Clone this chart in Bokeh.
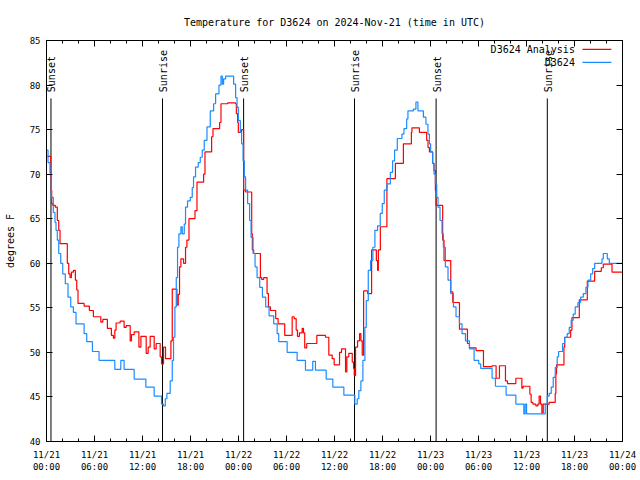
from math import pi
from bokeh.plotting import figure
from bokeh.models import (Range1d, FixedTicker, LinearAxis, Label,
                          CustomJSTickFormatter)
from bokeh.core.properties import value
from bokeh.embed import file_html
from bokeh.resources import INLINE

# ---------------- data (hours since 11/21 00:00 UTC, degrees F) ----------------
BLUE = [(0.0,72.7),(0.19,71.3),(0.44,70.1),(0.60,67.4),(0.85,65.7),(1.06,64.6),(1.19,63.7),(1.35,62.6),
        (1.53,61.1),(1.78,60.0),(2.03,58.8),(2.35,57.7),(2.69,56.2),(3.03,55.1),(3.36,54.5),(3.69,53.2),
        (4.70,52.1),(5.03,51.2),(5.74,50.1),(6.57,49.1),(8.54,48.1),(9.29,49.1),(9.70,48.1),(10.96,47.0),
        (12.42,46.1),(13.46,45.1),(14.38,44.2),(14.60,44.0),(14.85,44.8),(15.05,45.4),(15.46,46.8),(15.72,49.1),
        (15.88,51.7),(16.05,55.1),(16.22,58.4),(16.38,61.8),(16.55,63.3),(16.80,64.1),(16.97,63.3),(17.22,64.4),
        (17.38,66.3),(17.63,67.0),(17.97,67.4),(18.22,68.5),(18.38,69.7),(18.63,70.8),(18.97,71.3),(19.22,71.9),
        (19.47,72.7),(19.72,73.8),(20.06,75.3),(20.47,77.1),(20.89,77.9),(21.14,79.0),(21.56,80.0),(21.81,81.0),
        (21.98,80.1),(22.14,80.7),(22.39,81.0),(23.39,80.1),(23.64,78.6),(23.82,77.5),(23.98,76.0),(24.23,74.7),
        (24.39,73.4),(24.57,71.5),(24.73,69.7),(24.89,68.2),(25.14,66.7),(25.39,64.8),(25.57,62.9),(25.82,61.1),
        (26.07,59.6),(26.32,58.4),(26.65,57.3),(26.99,56.2),(27.40,55.1),(27.82,54.1),(28.40,53.2),(28.83,52.1),
        (29.03,51.2),(30.08,50.0),(31.33,49.1),(32.37,48.0),(33.28,49.0),(33.62,48.0),(34.96,47.0),(35.79,46.1),
        (37.17,45.2),(38.54,44.2),(38.84,44.8),(39.04,45.7),(39.30,46.8),(39.55,49.1),(39.80,52.8),(39.97,55.8),
        (40.22,59.2),(40.51,60.3),(40.80,61.8),(41.05,63.7),(41.39,64.2),(41.72,65.6),(41.97,66.7),(42.22,68.2),
        (42.55,68.9),(42.98,70.2),(43.26,71.5),(43.51,72.7),(43.85,74.0),(44.43,74.5),(44.68,75.1),(45.02,76.2),
        (45.18,77.1),(45.86,77.3),(46.18,78.1),(46.43,77.1),(47.11,76.4),(47.43,75.6),(47.68,74.5),(47.86,73.4),
        (48.02,72.5),(48.27,71.2),(48.44,70.0),(48.61,68.9),(48.78,67.4),(48.94,66.3),(49.19,64.8),(49.44,63.3),
        (49.61,61.8),(49.86,59.6),(50.19,58.1),(50.53,56.6),(50.87,55.1),(51.19,54.0),(51.62,53.2),(51.94,52.1),
        (52.37,51.3),(52.87,50.4),(53.45,49.1),(54.03,48.7),(54.28,48.2),(55.70,47.1),(56.12,46.2),(57.45,45.2),
        (58.67,44.2),(59.67,43.1),(59.83,44.2),(60.01,43.1),(62.34,44.2),(62.59,45.1),(62.84,45.4),(63.09,46.1),
        (63.34,47.2),(63.59,48.3),(63.84,49.5),(64.01,50.1),(64.51,51.0),(64.77,51.7),(65.09,52.1),(65.34,52.8),
        (65.59,53.6),(65.84,54.3),(66.09,55.1),(66.43,55.6),(66.77,56.2),(67.10,56.6),(67.43,57.3),(67.68,58.1),
        (68.02,58.8),(68.27,59.4),(68.52,60.0),(69.44,60.5),(69.60,61.1),(70.10,60.5),(70.35,60.0),(72.0,60.0)]

RED = [(0.10,72.0),(0.53,69.7),(0.58,68.2),(0.65,66.7),(0.78,66.5),(1.10,66.3),(1.35,64.8),(1.53,63.7),
       (1.69,62.2),(2.60,60.0),(2.78,58.8),(2.94,58.4),(3.11,59.0),(3.36,59.2),(3.61,58.1),(3.78,57.0),
       (3.94,55.5),(4.70,55.2),(5.36,54.7),(5.86,54.0),(6.79,53.4),(7.04,53.7),(7.61,52.7),(8.11,51.9),
       (8.36,51.6),(8.54,52.5),(8.70,53.3),(9.20,53.5),(9.70,52.8),(9.96,53.0),(10.46,51.3),(10.62,52.0),
       (10.96,52.3),(11.55,50.6),(11.80,51.8),(12.46,49.9),(12.71,50.6),(12.96,51.8),(13.46,50.4),(13.71,51.0),
       (14.21,49.5),(14.38,48.7),(14.63,50.6),(14.88,49.3),(15.55,51.3),(15.72,57.1),(16.30,55.3),(16.47,56.5),
       (16.63,59.6),(16.80,60.5),(17.13,60.0),(17.38,61.8),(17.55,62.6),(17.81,65.0),(18.56,65.9),(18.81,69.1),
       (19.64,70.0),(19.81,72.5),(20.64,74.2),(20.81,75.1),(21.64,75.8),(21.81,77.9),(22.64,78.0),(23.64,77.9),
       (23.73,76.8),(23.89,75.8),(23.98,74.7),(24.39,75.0),(24.64,68.2),(24.89,68.0),(25.65,63.3),(25.73,61.5),
       (25.90,61.1),(26.74,58.4),(26.90,58.2),(27.15,58.4),(27.57,56.6),(27.74,55.1),(27.99,54.7),(28.65,53.8),
       (28.95,53.2),(29.78,51.9),(30.71,54.0),(30.96,53.8),(31.21,52.5),(31.37,51.8),(31.62,52.2),(31.96,52.7),
       (32.12,52.2),(32.28,50.5),(32.53,51.0),(33.79,51.9),(34.88,51.7),(35.29,49.7),(35.71,49.3),(35.96,48.6),
       (36.63,50.0),(36.88,50.4),(37.38,47.8),(37.54,49.5),(37.79,49.9),(38.22,48.9),(38.38,48.2),(38.47,47.4),
       (38.63,50.6),(38.88,51.3),(39.13,52.1),(39.30,51.3),(39.47,49.7),(39.64,56.9),(40.14,56.6),(40.64,61.5),
       (41.23,60.3),(41.39,59.2),(41.48,61.5),(41.73,64.1),(42.55,69.5),(43.61,71.2),(44.61,73.4),(45.61,74.7),
       (45.68,75.2),(46.61,74.7),(47.52,73.8),(47.69,73.0),(47.86,72.5),(48.27,71.2),(48.44,70.4),(48.61,68.2),
       (48.69,66.5),(49.52,62.6),(49.69,60.3),(50.53,56.8),(50.78,55.6),(51.62,52.6),(52.62,51.0),(52.87,50.5),
       (53.70,50.2),(54.62,48.4),(55.70,48.5),(56.20,47.1),(56.62,48.5),(57.37,46.8),(57.62,46.5),(58.67,47.1),
       (59.42,46.0),(59.58,46.2),(60.42,45.3),(60.58,44.4),(60.80,44.2),(61.17,44.0),(61.42,44.2),(61.58,45.1),
       (61.75,44.2),(61.92,43.2),(62.09,44.2),(62.84,44.4),(63.59,45.4),(63.67,47.6),(63.75,48.6),(64.68,50.6),
       (64.77,51.7),(65.52,52.5),(65.68,53.9),(66.60,55.9),(67.60,58.0),(68.52,59.1),(69.35,59.5),(69.60,59.9),
       (70.69,59.0),(72.0,59.0)]

EVENT_HOURS = [0.56, 14.5, 24.64, 38.5, 48.7, 62.6]
EVENT_NAMES = ["Sunset", "Sunrise", "Sunset", "Sunrise", "Sunset", "Sunrise"]

X_TICKS = [0, 6, 12, 18, 24, 30, 36, 42, 48, 54, 60, 66, 72]
X_TICK_LABELS = ["11/21\n00:00", "11/21\n06:00", "11/21\n12:00", "11/21\n18:00",
                 "11/22\n00:00", "11/22\n06:00", "11/22\n12:00", "11/22\n18:00",
                 "11/23\n00:00", "11/23\n06:00", "11/23\n12:00", "11/23\n18:00",
                 "11/24\n00:00"]
X_MINOR = list(range(0, 73, 2))
Y_TICKS = [40, 45, 50, 55, 60, 65, 70, 75, 80, 85]

SERIES_NAMES = ["D3624 Analysis", "D3624"]
TITLE = "Temperature for D3624 on 2024-Nov-21 (time in UTC)"
Y_LABEL = "degrees F"

# ---------------- styling ----------------
FONT = "DejaVu Sans Mono"
RED_C = "#ff0000"
BLUE_C = "#1a8cff"
LINE_TOP = 78.5     # top of the sunrise/sunset markers
LABEL_Y = 79.2      # where the rotated marker labels start

blue_h, blue_t = zip(*BLUE)
red_h, red_t = zip(*RED)

p = figure(width=640, height=480, output_backend="svg", toolbar_location=None,
           x_range=Range1d(0, 72), y_range=Range1d(40, 85),
           min_border_left=46, min_border_right=18, min_border_top=40,
           min_border_bottom=39, x_axis_location=None, y_axis_location=None)
p.background_fill_color = "white"
p.border_fill_color = "white"
p.outline_line_color = "black"
p.xgrid.visible = False
p.ygrid.visible = False

p.title.text = TITLE
p.title.align = "center"
p.title.text_font = FONT
p.title.text_font_size = "10px"
p.title.text_font_style = "normal"
p.title.text_color = "black"
p.title.standoff = 25

xt = FixedTicker(ticks=X_TICKS, minor_ticks=X_MINOR)
yt = FixedTicker(ticks=Y_TICKS, minor_ticks=[])
blank = CustomJSTickFormatter(code="return ''")

def style(ax):
    ax.axis_line_color = "black"
    ax.major_tick_line_color = "black"
    ax.minor_tick_line_color = "black"
    ax.major_tick_in = 6
    ax.major_tick_out = 0
    ax.minor_tick_in = 3
    ax.minor_tick_out = 0
    ax.major_label_text_font = FONT
    ax.major_label_text_font_size = "9px"
    ax.major_label_text_color = "black"

xb = LinearAxis(ticker=xt, major_label_overrides={t: l for t, l in zip(X_TICKS, X_TICK_LABELS)})
style(xb)
xb.major_label_standoff = 8
p.add_layout(xb, "below")

xa = LinearAxis(ticker=xt, formatter=blank)
style(xa)
xa.major_label_standoff = 0
p.add_layout(xa, "above")

yl = LinearAxis(ticker=yt, axis_label=Y_LABEL)
style(yl)
yl.major_label_standoff = 6
yl.axis_label_text_font = FONT
yl.axis_label_text_font_size = "10px"
yl.axis_label_text_font_style = "normal"
yl.axis_label_text_color = "black"
yl.axis_label_standoff = 11
p.add_layout(yl, "left")

yr = LinearAxis(ticker=yt, formatter=blank)
style(yr)
yr.major_label_standoff = 0
p.add_layout(yr, "right")

# sunrise / sunset markers
p.segment(x0=EVENT_HOURS, y0=[40] * len(EVENT_HOURS), x1=EVENT_HOURS,
          y1=[LINE_TOP] * len(EVENT_HOURS), line_color="black", line_width=1)
p.text(x=EVENT_HOURS, y=[LABEL_Y] * len(EVENT_HOURS), text=EVENT_NAMES,
       angle=pi / 2, text_align="left", text_baseline="middle", x_offset=1,
       text_font=value(FONT), text_font_size="10px", text_color="black")

# series (step plots)
p.step(list(red_h), list(red_t), mode="after", line_color=RED_C, line_width=1.2)
p.step(list(blue_h), list(blue_t), mode="after", line_color=BLUE_C, line_width=1.2)

# legend, gnuplot style (text, then line sample)
for name, col, ly in zip(SERIES_NAMES, [RED_C, BLUE_C], [84.0, 82.55]):
    p.add_layout(Label(x=66.05, y=ly, text=name, text_align="right",
                       text_baseline="middle", text_font=FONT,
                       text_font_size="10px", text_color="black"))
    p.segment(x0=[67.0], y0=[ly], x1=[70.6], y1=[ly], line_color=col, line_width=1.2)

open("out.html", "w").write(file_html(p, INLINE))
